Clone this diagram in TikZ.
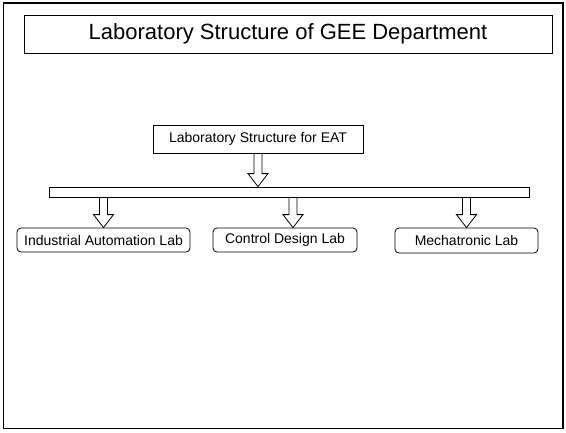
\documentclass[tikz,border=0pt]{standalone}
\usepackage{fontspec}
\setmainfont{Liberation Sans}
\usetikzlibrary{calc}
\tikzset{
  box/.style={draw, line width=0.8pt, inner sep=0pt, align=center, font=\fontsize{14}{16}\selectfont},
  labbox/.style={box, rounded corners=4pt},
  blockarrow/.style={draw, fill=white, line width=0.8pt,
    to path={let \p1=(\tikztostart), \p2=(\tikztotarget) in
      (\x1-4pt,\y1) -- (\x1-4pt,\y2+13pt) -- (\x1-10pt,\y2+13pt) -- (\x1,\y2)
      -- (\x1+10pt,\y2+13pt) -- (\x1+4pt,\y2+13pt) -- (\x1+4pt,\y1) -- cycle}},
}
\begin{document}
\begin{tikzpicture}[x=1pt,y=-1pt]
\useasboundingbox (0,0) rectangle (566,432);
\draw[line width=1.3pt] (3.5,3) rectangle (563,428.5);
\node[box, minimum width=528pt, minimum height=38pt, font=\fontsize{22}{24}\selectfont] (title) at (288,34) {Laboratory Structure of GEE Department};
\node[box, minimum width=210pt, minimum height=28pt] (eat) at (258,139) {Laboratory Structure for EAT};
\node[box, minimum width=480pt, minimum height=10pt] (bar) at (289,192) {};
\node[labbox, minimum width=173pt, minimum height=24pt] (ind) at (103.5,240) {Industrial Automation Lab};
\node[labbox, minimum width=144pt, minimum height=24pt] (ctl) at (285,240) {Control Design Lab};
\node[labbox, minimum width=143pt, minimum height=25pt] (mech) at (466.5,240.5) {Mechatronic Lab};
\draw[blockarrow] (eat.south) to (bar.north);
\draw[blockarrow] (bar.south -| ind.north) to (ind.north);
\draw[blockarrow] ([xshift=8pt]bar.south -| ctl.north) to ([xshift=8pt]ctl.north);
\draw[blockarrow] (bar.south -| mech.north) to (mech.north);
\end{tikzpicture}
\end{document}
